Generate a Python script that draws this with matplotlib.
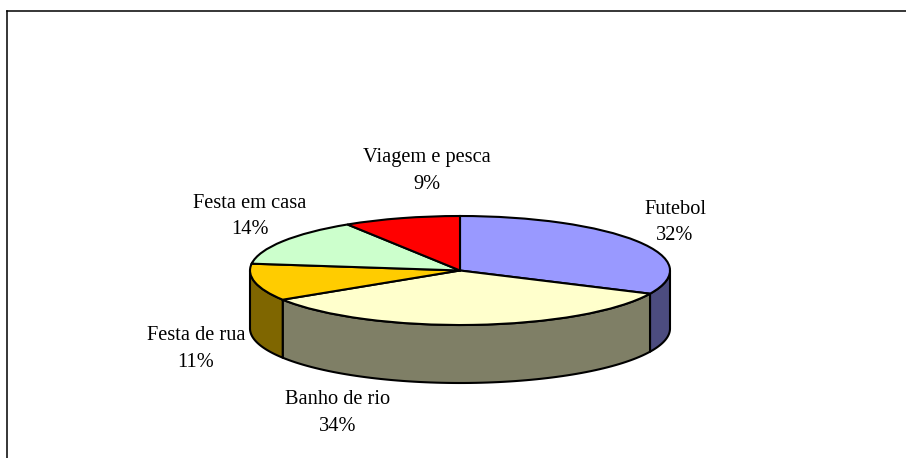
import matplotlib
matplotlib.use("Agg")
import matplotlib.pyplot as plt
from matplotlib.lines import Line2D
import numpy as np

plt.rcParams['font.family'] = ['Liberation Serif', 'DejaVu Serif']

# ---------------------------------------------------
# Data
# ---------------------------------------------------
categories = ["Futebol", "Banho de rio", "Festa de rua", "Festa em casa", "Viagem e pesca"]
values = [32, 34, 11, 14, 9]
top_colors = ["#9999FF", "#FFFFCC", "#FFCC00", "#CCFFCC", "#FF0000"]
side_colors = ["#4C4C7F", "#7F7F66", "#7F6600", "#667F66", "#7F0000"]

# layout, in pixels of the 906x458 image
W, H = 906, 458
cx, cy = 460, 270.5
rx, ry = 210, 54.5
depth_px = 58
label_px = [(675, 222.5), (338, 413), (196, 349), (250, 216.5), (427, 171)]
LW = 1.5


def to_data(px, py):
    return (px - cx) / rx, (cy - py) / ry


fig = plt.figure(figsize=(W / 100, H / 100), dpi=100)
ax = fig.add_axes([0, 0, 1, 1])

ax.pie(values, colors=top_colors, startangle=90, counterclock=False, radius=1,
       wedgeprops={'edgecolor': 'black', 'linewidth': LW, 'zorder': 3})
ax.set_aspect('auto')
ax.set_xlim(to_data(0, 0)[0], to_data(W, 0)[0])
ax.set_ylim(to_data(0, H)[1], to_data(0, 0)[1])

# Side wall of the disc, only the front half can be seen
depth = depth_px / ry
ends = 90 - np.cumsum(values) / sum(values) * 360
starts = np.concatenate(([90], ends[:-1]))
for a0, a1, c in zip(starts, ends, side_colors):
    for lo, hi in [(a1, a0), (a1 + 360, a0 + 360)]:
        hi = min(hi, 360)
        lo = max(lo, 180)
        if hi <= lo:
            continue
        t = np.radians(np.linspace(lo, hi, 80))
        x = np.cos(t)
        y = np.sin(t)
        px = np.concatenate((x, x[::-1]))
        py = np.concatenate((y, y[::-1] - depth))
        ax.fill(px, py, facecolor=c, edgecolor='black', linewidth=LW,
                joinstyle='round', zorder=2)

# Labels
for name, v, (lx, ly) in zip(categories, values, label_px):
    x, y = to_data(lx, ly)
    ax.text(x, y, "%s\n%d%%" % (name, v), ha='center', va='center', fontsize=14.7,
            linespacing=1.52, color='black', zorder=4)

# Chart frame, cut off on the right and at the bottom
fig.add_artist(Line2D([6.5 / W, 6.5 / W], [0, 1 - 10.5 / H], color='black', linewidth=1.1))
fig.add_artist(Line2D([6.5 / W, 1], [1 - 10.5 / H, 1 - 10.5 / H], color='black', linewidth=1.1))

fig.savefig("out.png", dpi=100)
